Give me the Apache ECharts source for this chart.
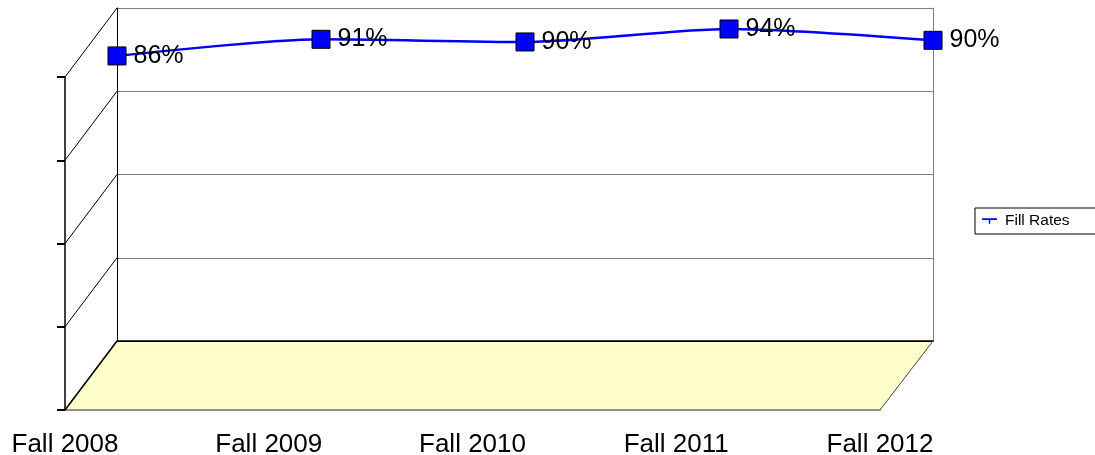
<!DOCTYPE html>
<html>
<head>
<meta charset="utf-8">
<script src="https://cdn.jsdelivr.net/npm/echarts@6/dist/echarts.min.js"></script>
<style>html,body{margin:0;padding:0;background:#fff;}#c{width:1095px;height:455px;}</style>
</head>
<body>
<div id="c"></div>
<script>
const categories = ['Fall 2008', 'Fall 2009', 'Fall 2010', 'Fall 2011', 'Fall 2012'];
const fillRates = [85.6, 90.6, 89.8, 93.7, 90.3];
const yTicks = [0, 25, 50, 75, 100];
const seriesName = 'Fill Rates';

const FONT = 'Liberation Sans, Arial, sans-serif';
const chart = echarts.init(document.getElementById('c'), null, {renderer: 'canvas'});

const hidden = {show: false};
chart.setOption({
  animation: false,
  backgroundColor: '#fff',
  grid: [
    {left: 117, top: 8, width: 816, height: 333, outerBoundsMode: 'none', containLabel: false},
    {left: 65, top: 77, width: 815, height: 333, outerBoundsMode: 'none', containLabel: false}
  ],
  legend: {
    data: [seriesName],
    left: 975, top: 208,
    padding: [5, 40, 5, 7],
    borderColor: '#000', borderWidth: 1,
    itemWidth: 15, itemHeight: 6, itemGap: 5,
    icon: 'path://M0,0 H14 V1.5 H0 Z M6.3,1.5 H7.7 V5 H6.3 Z',
    itemStyle: {color: '#0000ff', borderWidth: 0},
    textStyle: {fontFamily: FONT, fontSize: 15.5, color: '#000', padding: [0, 0, 0, 3]}
  },
  xAxis: [
    {gridIndex: 0, type: 'category', data: categories, boundaryGap: false, position: 'bottom', z: 5,
     axisLine: {lineStyle: {color: '#000', width: 1.5}}, axisTick: hidden, axisLabel: hidden},
    {gridIndex: 0, type: 'category', data: categories, boundaryGap: false, position: 'top', z: 5,
     axisLine: {lineStyle: {color: '#000', width: 1}}, axisTick: hidden, axisLabel: hidden},
    {gridIndex: 1, type: 'category', data: categories, boundaryGap: false, position: 'bottom', z: 5,
     axisLine: {lineStyle: {color: '#6f6f58', width: 1.5}}, axisTick: hidden,
     axisLabel: {fontFamily: FONT, fontSize: 26, color: '#000', margin: 22}}
  ],
  yAxis: [
    {gridIndex: 0, type: 'value', min: yTicks[0], max: yTicks[yTicks.length - 1], interval: 25, z: 5,
     axisLine: {show: true, lineStyle: {color: '#000', width: 1}}, axisTick: hidden, axisLabel: hidden,
     splitLine: {show: true, lineStyle: {color: '#808080', width: 1}}},
    {gridIndex: 0, type: 'value', position: 'right', min: yTicks[0], max: yTicks[yTicks.length - 1], interval: 25, z: 5,
     axisLine: {show: true, lineStyle: {color: '#808080', width: 1}}, axisTick: hidden, axisLabel: hidden,
     splitLine: hidden},
    {gridIndex: 1, type: 'value', min: yTicks[0], max: yTicks[yTicks.length - 1], interval: 25, z: 5,
     axisLine: {show: true, lineStyle: {color: '#000', width: 1.5}},
     axisTick: {show: true, inside: false, length: 8, lineStyle: {color: '#000', width: 2}},
     axisLabel: hidden, splitLine: hidden}
  ],
  series: [{
    name: seriesName,
    type: 'line',
    xAxisIndex: 0, yAxisIndex: 0,
    data: fillRates,
    smooth: 0.25,
    symbol: 'rect', symbolSize: 18,
    z: 10,
    lineStyle: {color: '#0000ff', width: 2.5},
    itemStyle: {color: '#0000ff', borderColor: '#000', borderWidth: 1},
    label: {show: true, position: 'right', distance: 7, fontFamily: FONT, fontSize: 25, color: '#000',
            formatter: p => Math.round(p.value) + '%'}
  }]
});

// 3D frame decorations computed from the axes
const back = (i, v) => chart.convertToPixel({gridIndex: 0}, [i, v]);
const front = (i, v) => chart.convertToPixel({gridIndex: 1}, [i, v]);
const last = categories.length - 1;
const g = [];
const bl = back(0, 0), br = back(last, 0), fr = front(last, 0), fl = front(0, 0);
g.push({type: 'polygon', z: 1, shape: {points: [bl, br, fr, fl]}, style: {fill: '#ffffcc', stroke: null}});
g.push({type: 'line', z: 6, shape: {x1: br[0], y1: br[1], x2: fr[0], y2: fr[1]}, style: {stroke: '#444', lineWidth: 1}});
yTicks.forEach(v => {
  const a = front(0, v), b = back(0, v);
  g.push({type: 'line', z: 6, shape: {x1: a[0], y1: a[1], x2: b[0], y2: b[1]},
          style: {stroke: '#000', lineWidth: v === 0 ? 1.6 : 1}});
});
chart.setOption({graphic: g});
</script>
</body>
</html>
